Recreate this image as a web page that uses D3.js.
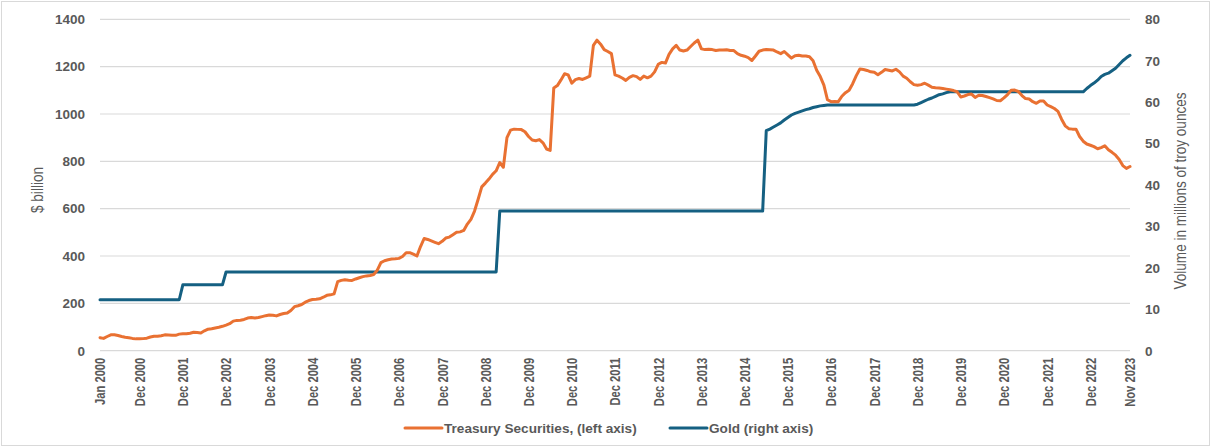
<!DOCTYPE html>
<html><head><meta charset="utf-8">
<script src="https://cdn.jsdelivr.net/npm/d3@7"></script>
<style>body{margin:0;background:#fff} svg{display:block}</style>
</head><body>
<svg id="chart" width="1212" height="448"></svg>
<script>
// ---- DATA ----
const firstMonth = "2000-01";
const lastMonth = "2023-11";
// Treasury securities, $ billion (left axis), monthly Jan 2000 .. Nov 2023
const treasury = [
  55, 52, 60, 67, 67, 64, 60, 57, 55, 52, 50, 50,
  51, 53, 58, 61, 61, 63, 67, 66, 65, 65, 70, 72,
  72, 74, 78, 77, 75, 84, 91, 93, 96, 99, 103, 108,
  114, 125, 128, 129, 132, 138, 140, 138, 140, 144, 148, 151,
  150, 147, 153, 157, 159, 170, 186, 190, 195, 205, 212, 216,
  217, 219, 226, 234, 236, 240, 292, 297, 300, 298, 297, 303,
  308, 313, 316, 318, 322, 340, 372, 380, 384, 387, 388, 390,
  398, 414, 414, 408, 400, 440, 474, 470, 464, 458, 452, 462,
  476, 480, 490, 500, 502, 508, 535, 555, 590, 640, 692, 708,
  725, 745, 760, 795, 775, 900, 932, 936, 935, 934, 925, 905,
  890, 887, 892, 878, 852, 846, 1110, 1120, 1144, 1170, 1165, 1130,
  1145, 1150, 1146, 1153, 1160, 1290, 1312, 1295, 1272, 1264, 1255, 1165,
  1160, 1152, 1142, 1155, 1162, 1158, 1146, 1160, 1153, 1160, 1178, 1210,
  1218, 1215, 1252, 1275, 1290, 1270, 1266, 1270, 1285, 1300, 1312, 1275,
  1272, 1273, 1272, 1268, 1270, 1270, 1271, 1268, 1268, 1255, 1248, 1244,
  1238, 1226, 1245, 1265, 1270, 1272, 1271, 1270, 1262, 1255, 1264, 1250,
  1236, 1246, 1248, 1245, 1245, 1242, 1225, 1185, 1158, 1122, 1060, 1052,
  1053, 1052, 1075, 1090, 1100, 1128, 1162, 1190, 1188, 1184, 1178, 1176,
  1166, 1176, 1188, 1185, 1182, 1189, 1178, 1160, 1151, 1136, 1124, 1121,
  1124, 1130, 1122, 1113, 1111, 1110, 1108, 1105, 1102, 1099, 1094, 1072,
  1076, 1082, 1084, 1070, 1079, 1078, 1074, 1069, 1064, 1057, 1056, 1068,
  1082, 1100, 1101, 1095, 1078, 1065, 1063, 1052, 1045, 1055, 1055, 1038,
  1031, 1023, 1011, 978, 950, 938, 936, 936, 905, 885, 873, 868,
  862, 853, 858, 866, 849, 838, 826, 808, 782, 770, 778
];
// Gold, millions of troy ounces (right axis), monthly Jan 2000 .. Nov 2023
const gold = [
  12.3, 12.3, 12.3, 12.3, 12.3, 12.3, 12.3, 12.3, 12.3, 12.3, 12.3, 12.3,
  12.3, 12.3, 12.3, 12.3, 12.3, 12.3, 12.3, 12.3, 12.3, 12.3, 12.3, 15.9,
  15.9, 15.9, 15.9, 15.9, 15.9, 15.9, 15.9, 15.9, 15.9, 15.9, 15.9, 19.0,
  19.0, 19.0, 19.0, 19.0, 19.0, 19.0, 19.0, 19.0, 19.0, 19.0, 19.0, 19.0,
  19.0, 19.0, 19.0, 19.0, 19.0, 19.0, 19.0, 19.0, 19.0, 19.0, 19.0, 19.0,
  19.0, 19.0, 19.0, 19.0, 19.0, 19.0, 19.0, 19.0, 19.0, 19.0, 19.0, 19.0,
  19.0, 19.0, 19.0, 19.0, 19.0, 19.0, 19.0, 19.0, 19.0, 19.0, 19.0, 19.0,
  19.0, 19.0, 19.0, 19.0, 19.0, 19.0, 19.0, 19.0, 19.0, 19.0, 19.0, 19.0,
  19.0, 19.0, 19.0, 19.0, 19.0, 19.0, 19.0, 19.0, 19.0, 19.0, 19.0, 19.0,
  19.0, 19.0, 19.0, 33.7, 33.7, 33.7, 33.7, 33.7, 33.7, 33.7, 33.7, 33.7,
  33.7, 33.7, 33.7, 33.7, 33.7, 33.7, 33.7, 33.7, 33.7, 33.7, 33.7, 33.7,
  33.7, 33.7, 33.7, 33.7, 33.7, 33.7, 33.7, 33.7, 33.7, 33.7, 33.7, 33.7,
  33.7, 33.7, 33.7, 33.7, 33.7, 33.7, 33.7, 33.7, 33.7, 33.7, 33.7, 33.7,
  33.7, 33.7, 33.7, 33.7, 33.7, 33.7, 33.7, 33.7, 33.7, 33.7, 33.7, 33.7,
  33.7, 33.7, 33.7, 33.7, 33.7, 33.7, 33.7, 33.7, 33.7, 33.7, 33.7, 33.7,
  33.7, 33.7, 33.7, 33.7, 33.7, 53.1, 53.5, 54.0, 54.5, 55.0, 55.7, 56.3,
  56.9, 57.3, 57.6, 57.9, 58.2, 58.4, 58.7, 58.9, 59.1, 59.2, 59.3, 59.3,
  59.3, 59.3, 59.3, 59.3, 59.3, 59.3, 59.3, 59.3, 59.3, 59.3, 59.3, 59.3,
  59.3, 59.3, 59.3, 59.3, 59.3, 59.3, 59.3, 59.3, 59.3, 59.3, 59.3, 59.5,
  59.9, 60.3, 60.7, 61.0, 61.4, 61.8, 62.0, 62.3, 62.5, 62.5, 62.5, 62.5,
  62.5, 62.5, 62.5, 62.5, 62.5, 62.5, 62.5, 62.5, 62.5, 62.5, 62.5, 62.5,
  62.5, 62.5, 62.5, 62.5, 62.5, 62.5, 62.5, 62.5, 62.5, 62.5, 62.5, 62.5,
  62.5, 62.5, 62.5, 62.5, 62.5, 62.5, 62.5, 62.5, 62.5, 62.5, 63.3, 64.0,
  64.6, 65.3, 66.2, 66.7, 67.0, 67.6, 68.2, 69.1, 70.0, 70.7, 71.3
];
const xTickLabels = ["Jan 2000","Dec 2000","Dec 2001","Dec 2002","Dec 2003","Dec 2004","Dec 2005",
  "Dec 2006","Dec 2007","Dec 2008","Dec 2009","Dec 2010","Dec 2011","Dec 2012","Dec 2013",
  "Dec 2014","Dec 2015","Dec 2016","Dec 2017","Dec 2018","Dec 2019","Dec 2020","Dec 2021",
  "Dec 2022","Nov 2023"];
const leftTicks = [0, 200, 400, 600, 800, 1000, 1200, 1400];
const rightTicks = [0, 10, 20, 30, 40, 50, 60, 70, 80];
const seriesNames = ["Treasury Securities, (left axis)", "Gold (right axis)"];
const leftTitle = "$ billion";
const rightTitle = "Volume in millions of troy ounces";

// ---- CHART ----
const parse = d3.timeParse("%Y-%m");
const fmt = d3.timeFormat("%b %Y");
const months = d3.timeMonth.range(parse(firstMonth), d3.timeMonth.offset(parse(lastMonth), 1));
const categories = months.map(fmt);

const colors = {treasury: "#E97132", gold: "#156082"};
const textGrey = "#595959";
const sans = "'Liberation Sans', Arial, sans-serif";
const svg = d3.select("#chart");

const L = 100, R = 1130, T = 19.3, B = 350.7;
const x = d3.scalePoint().domain(categories).range([L, R]);
const yL = d3.scaleLinear().domain([0, 1400]).range([B, T]);
const yR = d3.scaleLinear().domain([0, 80]).range([B, T]);

// chart border
svg.append("rect").attr("x", 1.5).attr("y", 1.5).attr("width", 1208).attr("height", 444)
  .attr("fill", "#fff").attr("stroke", "#d9d9d9").attr("stroke-width", 1);

// gridlines
svg.append("g").selectAll("line").data(leftTicks).join("line")
  .attr("x1", L).attr("x2", R).attr("y1", d => yL(d)).attr("y2", d => yL(d))
  .attr("stroke", "#d9d9d9").attr("stroke-width", 1.2);

// left axis
const gl = svg.append("g").attr("transform", `translate(${L},0)`)
  .call(d3.axisLeft(yL).tickValues(leftTicks).tickSize(0).tickPadding(15).tickFormat(d3.format("d")));
gl.select(".domain").remove();
gl.selectAll("text").attr("fill", textGrey).attr("font-family", sans)
  .attr("font-weight", "bold").attr("font-size", "13.5px");

// right axis
const gr = svg.append("g").attr("transform", `translate(${R},0)`)
  .call(d3.axisRight(yR).tickValues(rightTicks).tickSize(0).tickPadding(15).tickFormat(d3.format("d")));
gr.select(".domain").remove();
gr.selectAll("text").attr("fill", textGrey).attr("font-family", sans)
  .attr("font-weight", "bold").attr("font-size", "13.5px");

// x axis (narrow look via horizontal scale along the reading direction)
const gx = svg.append("g").attr("transform", `translate(0,${B})`)
  .call(d3.axisBottom(x).tickValues(xTickLabels).tickSize(0).tickPadding(0));
gx.select(".domain").remove();
gx.selectAll("text")
  .attr("fill", textGrey)
  .attr("font-family", sans)
  .attr("font-weight", "bold").attr("font-size", "14px")
  .attr("text-anchor", "end")
  .attr("transform", "translate(0,7) rotate(-90) scale(0.8,1)")
  .attr("x", 0).attr("y", 0).attr("dy", "0.35em");

// axis titles
svg.append("text").attr("transform", "translate(37,190) rotate(-90) scale(0.82,1)")
  .attr("text-anchor", "middle").attr("dy", "0.35em")
  .attr("fill", textGrey).attr("font-family", sans)
  .attr("font-size", "16.5px").text(leftTitle);
svg.append("text").attr("transform", "translate(1180,191) rotate(-90) scale(0.82,1)")
  .attr("text-anchor", "middle").attr("dy", "0.35em")
  .attr("fill", textGrey).attr("font-family", sans)
  .attr("font-size", "16.5px").text(rightTitle);

// lines
const lineT = d3.line().x((d, i) => x(categories[i])).y(d => yL(d));
const lineG = d3.line().x((d, i) => x(categories[i])).y(d => yR(d));
svg.append("path").datum(gold).attr("d", lineG).attr("fill", "none")
  .attr("stroke", colors.gold).attr("stroke-width", 3).attr("stroke-linejoin", "round").attr("stroke-linecap", "round");
svg.append("path").datum(treasury).attr("d", lineT).attr("fill", "none")
  .attr("stroke", colors.treasury).attr("stroke-width", 3).attr("stroke-linejoin", "round").attr("stroke-linecap", "round");

// legend
const legendItems = [
  {name: seriesNames[0], color: colors.treasury, x0: 405},
  {name: seriesNames[1], color: colors.gold, x0: 670}
];
const lg = svg.append("g").selectAll("g").data(legendItems).join("g")
  .attr("transform", d => `translate(${d.x0},428)`);
lg.append("line").attr("x1", 0).attr("x2", 37).attr("y1", 0).attr("y2", 0)
  .attr("stroke", d => d.color).attr("stroke-width", 3).attr("stroke-linecap", "round");
lg.append("text").attr("x", 39).attr("dy", "0.35em")
  .attr("fill", textGrey).attr("font-family", sans)
  .attr("font-weight", "bold").attr("font-size", "13.6px").text(d => d.name);
</script>
</body></html>
